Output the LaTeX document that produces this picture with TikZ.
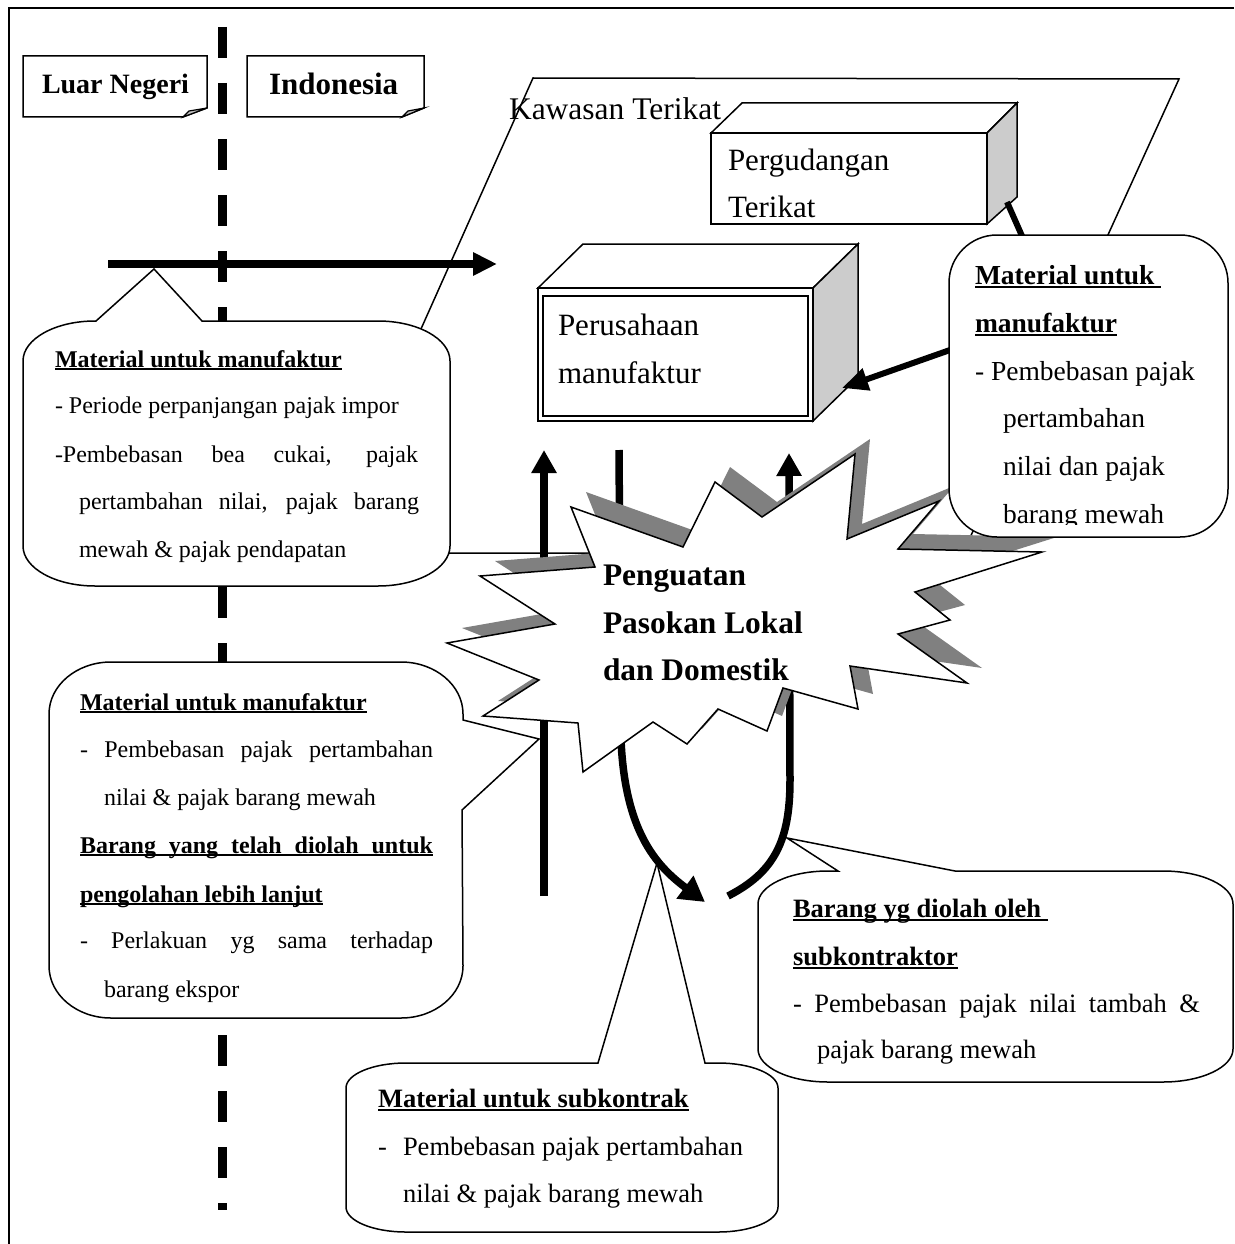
\documentclass[tikz,border=0pt]{standalone}
\usepackage{fontspec}
\setmainfont{Liberation Serif}
\usetikzlibrary{arrows.meta}
\newsavebox\ulsave
\newcommand\ulx[1]{\sbox\ulsave{#1}\rlap{\rule[-.14em]{\wd\ulsave}{.08em}}\usebox\ulsave}
\newcommand\ulj[2]{\rlap{\rule[-.14em]{#1}{.08em}}\makebox[#1][s]{#2}}
\newcommand\fs[1]{\fontsize{#1}{#1}\selectfont}
% rounded box with elliptical corners; #8 = top pointer segment, #9 = right pointer segment
\newcommand\rbox[9]{%
  \pgfmathsetmacro\kx{0.448*#6}\pgfmathsetmacro\ky{0.448*#7}%
  \draw[#1] (#2+#6,#3) #8 -- (#4-#6,#3) .. controls (#4-\kx,#3) and (#4,#3+\ky) .. (#4,#3+#7) #9
    -- (#4,#5-#7) .. controls (#4,#5-\ky) and (#4-\kx,#5) .. (#4-#6,#5)
    -- (#2+#6,#5) .. controls (#2+\kx,#5) and (#2,#5-\ky) .. (#2,#5-#7)
    -- (#2,#3+#7) .. controls (#2,#3+\ky) and (#2+\kx,#3) .. (#2+#6,#3) -- cycle;}
\begin{document}
\begin{tikzpicture}[x=1pt,y=-1pt]
\tikzset{
  outl/.style={draw=black, line width=1.5pt},
  txt/.style={anchor=base west, inner sep=0pt, outer sep=0pt},
  side3d/.style={fill=black!20, draw=black, line width=1.5pt},
  bubble/.style={fill=white, draw=black, line width=1.5pt},
  fold/.style={fill=black!25, draw=black, line width=1.2pt},
  fatline/.style={line width=8pt},
}
\useasboundingbox (0,0) rectangle (1234,1244);

% frame
\draw[line width=2pt] (1234,8) -- (9,8) -- (9,1244);

% border dashed line
\coordinate (bt) at (222,27);
\coordinate (bb) at (222,1210);
\draw[line width=9pt, dash pattern=on 31pt off 25pt] (bt) -- (bb);

% Kawasan Terikat parallelogram
\draw[outl] (533,78) -- (1179,79) -- (963,553) -- (321,553) -- cycle;
\node[txt, font=\fs{31.5}] (tKT) at (509,120) {Kawasan Terikat};

% Pergudangan Terikat box
\draw[outl, fill=white] (711,133) -- (742,103) -- (1017,103) -- (987,133) -- cycle;
\draw[side3d] (987,133) -- (1017,103) -- (1017,197) -- (987,224) -- cycle;
\draw[outl, fill=white] (711,133) rectangle (987,224);
\node[txt, font=\fs{31}] (tPG1) at (728,170) {Pergudangan};
\node[txt, font=\fs{31}] (tPG2) at (728,217) {Terikat};

% Perusahaan manufaktur box
\draw[outl, fill=white] (538,288) -- (583,244) -- (858,244) -- (813,288) -- cycle;
\draw[side3d] (813,288) -- (858,244) -- (858,377) -- (813,421) -- cycle;
\draw[outl, fill=white] (538,288) rectangle (813,421);
\draw[line width=1.3pt] (543,296) rectangle (808,416);
\node[txt, font=\fs{31}] (tPM1) at (558,335) {Perusahaan};
\node[txt, font=\fs{31}] (tPM2) at (558,383) {manufaktur};

% import arrow
\coordinate (a1s) at (108,264);
\coordinate (a1e) at (497,264);
\draw[fatline, -{Triangle[length=24pt,width=22pt]}] (a1s) -- (a1e);

% vertical / curved arrows (behind the star)
\coordinate (u1s) at (544,896);
\coordinate (u1e) at (544,450);
\draw[fatline, -{Triangle[length=23pt,width=24pt]}] (u1s) -- (u1e);

\coordinate (c1s) at (619,450);
\coordinate (c1m) at (621,740);
\coordinate (c1e) at (705,902);
\draw[line width=7.5pt, -{Triangle[length=25pt,width=27pt]}] (c1s) -- (c1m) .. controls (625,830) and (655,865) .. (c1e);

\coordinate (c2s) at (728,896);
\coordinate (c2m) at (790,780);
\coordinate (c2e) at (789,453);
\draw[line width=7.5pt, -{Triangle[length=23pt,width=24pt]}] (c2s) .. controls (775,872) and (790,840) .. (c2m) -- (c2e);

% connectors right callout
\coordinate (g1) at (1007,202);
\coordinate (g2) at (1022,236);
\draw[line width=6pt] (g1) -- (g2);
\coordinate (r1s) at (950,350);
\coordinate (r1e) at (842,388);
\draw[line width=6pt, -{Triangle[length=26pt,width=22pt]}] (r1s) -- (r1e);

% left top callout
\rbox{bubble}{23}{321}{450}{586}{72}{40}{-- (96,321) -- (154,269) -- (202,321)}{}
\node[txt, font=\fs{24}\bfseries] (L1a) at (55,367) {\ulx{Material untuk manufaktur}};
\node[txt, font=\fs{24}] (L1b) at (55,413) {- Periode perpanjangan pajak impor};
\node[txt, font=\fs{24}] (L1c) at (55,462) {\makebox[363pt][s]{-Pembebasan bea cukai, pajak}};
\node[txt, font=\fs{24}] (L1d) at (79,509) {\makebox[340pt][s]{pertambahan nilai, pajak barang}};
\node[txt, font=\fs{24}] (L1e) at (79,557) {mewah \& pajak pendapatan};

% left middle callout
\rbox{bubble}{49}{662}{463}{1018}{62}{52}{}{-- (463,720) -- (539,739) -- (462,810)}
\node[txt, font=\fs{24}\bfseries] (L2a) at (80,710) {\ulx{Material untuk manufaktur}};
\node[txt, font=\fs{24}] (L2b) at (80,757) {\makebox[353pt][s]{- Pembebasan pajak pertambahan}};
\node[txt, font=\fs{24}] (L2c) at (104,805) {nilai \& pajak barang mewah};
\node[txt, font=\fs{24}\bfseries] (L2d) at (80,853) {\ulj{353pt}{Barang yang telah diolah untuk}};
\node[txt, font=\fs{24}\bfseries] (L2e) at (80,902) {\ulx{pengolahan lebih lanjut}};
\node[txt, font=\fs{24}] (L2f) at (80,948) {\makebox[353pt][s]{- Perlakuan yg sama terhadap}};
\node[txt, font=\fs{24}] (L2g) at (104,997) {barang ekspor};

% starburst
\fill[black!50] (586,492) -- (698,532) -- (730,467) -- (777,502) -- (870,439) -- (862,524) -- (954,486) -- (913,534) -- (1057,537) -- (930,577) -- (965,605) -- (913,619) -- (982,668) -- (865,651) -- (873,694) -- (798,673) -- (782,716) -- (733,694) -- (702,729) -- (668,707) -- (598,757) -- (593,708) -- (498,701) -- (554,665) -- (462,628) -- (570,609) -- (495,561) -- (610,552) -- cycle;
\draw[fill=white, draw=black, line width=1.5pt] (571,507) -- (683,547) -- (715,482) -- (762,517) -- (855,454) -- (847,539) -- (939,501) -- (898,549) -- (1042,552) -- (915,592) -- (950,620) -- (898,634) -- (967,683) -- (850,666) -- (858,709) -- (783,688) -- (767,731) -- (718,709) -- (687,744) -- (653,722) -- (583,772) -- (578,723) -- (483,716) -- (539,680) -- (447,643) -- (555,624) -- (480,576) -- (595,567) -- cycle;
\node[txt, font=\fs{31.4}\bfseries] (S1) at (603,585) {Penguatan};
\node[txt, font=\fs{31.4}\bfseries] (S2) at (603,633) {Pasokan Lokal};
\node[txt, font=\fs{31.4}\bfseries] (S3) at (603,680) {dan Domestik};

% right callout
\rbox{bubble}{949}{235}{1228}{537}{48}{48}{}{}
\begin{scope}
\clip (949,235) rectangle (1228,524);
\node[txt, font=\fs{27.5}\bfseries] (R1) at (975,284) {\ulx{Material untuk\ }};
\node[txt, font=\fs{27.5}\bfseries] (R2) at (975,332) {\ulx{manufaktur}};
\node[txt, font=\fs{27.5}] (R3) at (975,380) {- Pembebasan pajak};
\node[txt, font=\fs{27.5}] (R4) at (1003,427) {pertambahan};
\node[txt, font=\fs{27.5}] (R5) at (1003,475) {nilai dan pajak};
\node[txt, font=\fs{27.5}] (R6) at (1003,523) {barang mewah};
\end{scope}

% subkontrak callout
\rbox{bubble}{346}{1063}{778}{1232}{60}{25}{-- (598,1063) -- (657,863) -- (705,1063)}{}
\node[txt, font=\fs{26.5}\bfseries] (B1a) at (378,1107) {\ulx{Material untuk subkontrak}};
\node[txt, font=\fs{26.5}] (B1b) at (378,1155) {-};
\node[txt, font=\fs{26.5}] (B1c) at (403,1155) {Pembebasan pajak pertambahan};
\node[txt, font=\fs{26.5}] (B1d) at (403,1202) {nilai \& pajak barang mewah};

% barang diolah callout
\rbox{bubble}{758}{871}{1233}{1082}{70}{33}{-- (838,871) -- (787,838) -- (955,871)}{}
\node[txt, font=\fs{26.5}\bfseries] (B2a) at (793,917) {\ulx{Barang yg diolah oleh\ }};
\node[txt, font=\fs{26.5}\bfseries] (B2b) at (793,965) {\ulx{subkontraktor}};
\node[txt, font=\fs{26.5}] (B2c) at (793,1012) {\makebox[407pt][s]{- Pembebasan pajak nilai tambah \&}};
\node[txt, font=\fs{26.5}] (B2d) at (817,1058) {pajak barang mewah};

% region tags
\draw[outl, fill=white] (23,56) -- (207,56) -- (207,108) -- (183,117) -- (23,117) -- cycle;
\draw[fold] (183,117) -- (189,111) -- (207,108) -- cycle;
\node[txt, font=\fs{28}\bfseries] (tLN) at (42,94) {Luar Negeri};
\draw[outl, fill=white] (247,56) -- (424,56) -- (424,108) -- (402,117) -- (247,117) -- cycle;
\draw[fold] (402,117) -- (408,111) -- (424,108) -- cycle;
\node[txt, font=\fs{31}\bfseries] (tID) at (269,95) {Indonesia};
\end{tikzpicture}
\end{document}
